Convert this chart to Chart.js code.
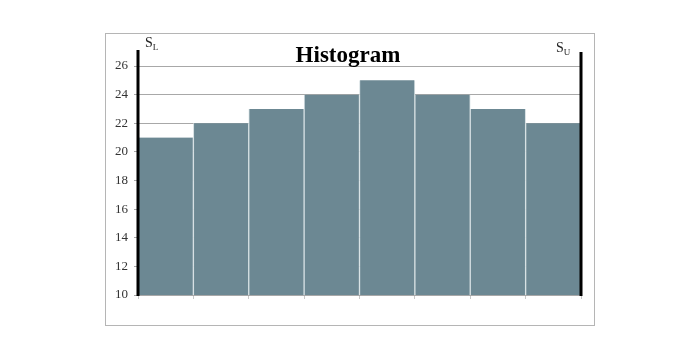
<!DOCTYPE html>
<html>
<head>
<meta charset="utf-8">
<script src="https://cdn.jsdelivr.net/npm/chart.js@4.4.0/dist/chart.umd.min.js"></script>
<style>
html,body{margin:0;padding:0;background:#fff;}
#wrap{width:700px;height:360px;}
</style>
</head>
<body>
<div id="wrap"><canvas id="c" width="700" height="360"></canvas></div>
<script>
const categories = ['Bin 1','Bin 2','Bin 3','Bin 4','Bin 5','Bin 6','Bin 7','Bin 8'];
const frequencies = [21, 22, 23, 24, 25, 24, 23, 22];
const yTicks = [10, 12, 14, 16, 18, 20, 22, 24, 26];
const titleText = 'Histogram';
const lowerSpec = ['S', 'L'];
const upperSpec = ['S', 'U'];

const decor = {
  id: 'decor',
  beforeDraw(chart) {
    const ctx = chart.ctx;
    ctx.save();
    ctx.strokeStyle = '#b5b5b5';
    ctx.lineWidth = 1;
    ctx.strokeRect(105.5, 33.5, 489, 292);
    ctx.restore();
  },
  afterDraw(chart) {
    const ctx = chart.ctx;
    const a = chart.chartArea;
    ctx.save();
    ctx.strokeStyle = '#000';
    ctx.lineWidth = 3;
    ctx.beginPath();
    ctx.moveTo(a.left, 50); ctx.lineTo(a.left, a.bottom + 1);
    ctx.moveTo(a.right, 52); ctx.lineTo(a.right, a.bottom + 1);
    ctx.stroke();
    // title
    ctx.fillStyle = '#000';
    ctx.font = 'bold 23px "Liberation Serif", "DejaVu Serif", serif';
    ctx.textAlign = 'center';
    ctx.textBaseline = 'alphabetic';
    ctx.fillText(titleText, 348, 62);
    // spec labels
    ctx.textAlign = 'left';
    ctx.fillStyle = '#222';
    ctx.font = '14px "Liberation Serif", serif';
    ctx.fillText(lowerSpec[0], a.left + 7, 47);
    let w = ctx.measureText(lowerSpec[0]).width;
    ctx.font = '9px "Liberation Serif", serif';
    ctx.fillText(lowerSpec[1], a.left + 7 + w, 50);
    ctx.font = '14px "Liberation Serif", serif';
    ctx.fillText(upperSpec[0], a.right - 25, 52);
    w = ctx.measureText(upperSpec[0]).width;
    ctx.font = '9px "Liberation Serif", serif';
    ctx.fillText(upperSpec[1], a.right - 25 + w, 55);
    ctx.restore();
  }
};

new Chart(document.getElementById('c'), {
  type: 'bar',
  data: {
    labels: categories,
    datasets: [{
      data: frequencies,
      backgroundColor: '#6c8893',
      borderColor: '#d6e0e3',
      borderWidth: {left: 1, right: 1, top: 0, bottom: 0},
      categoryPercentage: 1.0,
      barPercentage: 1.0,
      borderSkipped: false
    }]
  },
  options: {
    responsive: false,
    animation: false,
    devicePixelRatio: 1,
    layout: {padding: {left: 0, right: 119, top: 66, bottom: 0}},
    plugins: {legend: {display: false}, title: {display: false}, tooltip: {enabled: false}},
    scales: {
      x: {
        grid: {display: true, drawOnChartArea: false, drawTicks: true, tickLength: 4, color: '#c8c8c8', offset: true},
        border: {display: false},
        ticks: {callback: () => '', padding: 0},
        afterFit(s) { s.height = 65; }
      },
      y: {
        min: 10, max: 26,
        afterBuildTicks(s) { s.ticks = yTicks.map(v => ({value: v})); },
        grid: {color: '#a8a8a8', lineWidth: 1, tickLength: 4, drawTicks: true},
        border: {display: false},
        ticks: {
          color: '#333',
          padding: 6,
          font: {family: '"Liberation Serif", serif', size: 13}
        },
        afterFit(s) { s.width = 138; }
      }
    }
  },
  plugins: [decor]
});
</script>
</body>
</html>
